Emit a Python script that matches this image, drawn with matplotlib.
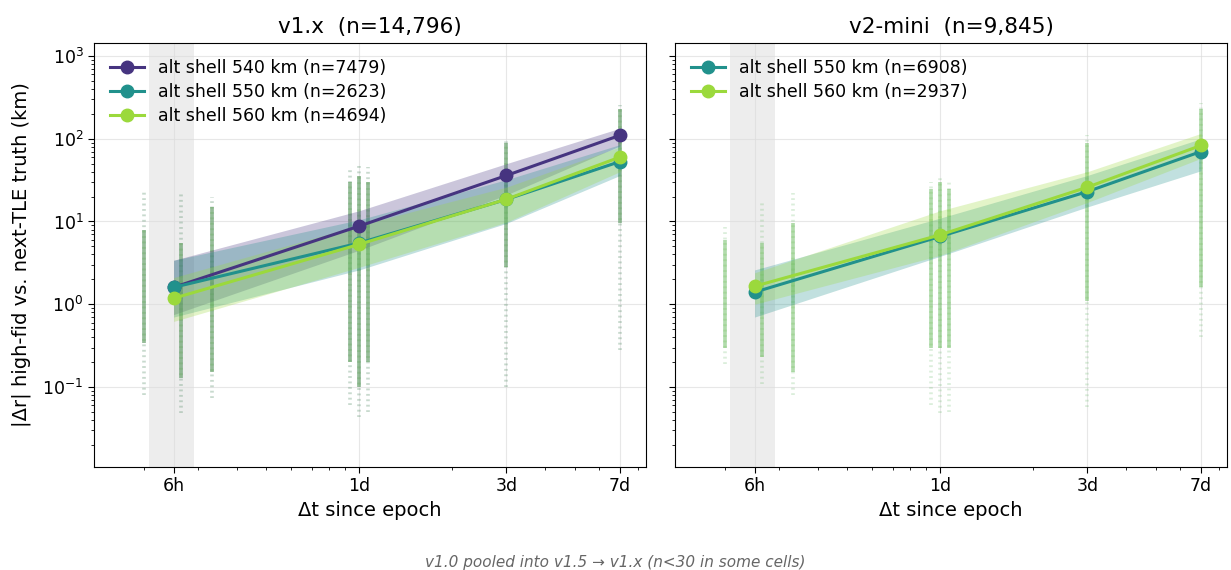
import numpy as np
import matplotlib.pyplot as plt
from matplotlib.ticker import FixedLocator, FixedFormatter, NullFormatter

# horizons (days) and labels
horizons = [0.25, 1.0, 3.0, 7.0]
horizon_labels = ["6h", "1d", "3d", "7d"]

# --- v1.x panel: median |dr| and IQR band per shell ---
v1_shells = ["alt shell 540 km (n=7479)", "alt shell 550 km (n=2623)", "alt shell 560 km (n=4694)"]
v1_med = [[1.6, 8.8, 36, 110], [1.6, 5.5, 18.5, 53], [1.18, 5.3, 18.6, 60]]
v1_lo = [[0.75, 4.5, 21, 82], [0.7, 2.6, 9.5, 36], [0.62, 2.8, 9.8, 40]]
v1_hi = [[3.4, 13.5, 50, 134], [3.4, 10.5, 32, 85], [2.1, 9.0, 26, 80]]

# --- v2-mini panel ---
v2_shells = ["alt shell 550 km (n=6908)", "alt shell 560 km (n=2937)"]
v2_med = [[1.4, 6.6, 23, 70], [1.65, 6.9, 26, 83]]
v2_lo = [[0.7, 3.8, 15, 41], [1.0, 3.9, 17, 58]]
v2_hi = [[2.6, 11, 36, 100], [2.4, 13.5, 40, 116]]

# per-TLE scatter clouds: x position, full extent, dense core
cloud_x = [0.2, 0.265, 0.333, 0.93, 1.0, 1.065, 3.0, 7.0]
v1_cloud_lo = [0.079, 0.048, 0.073, 0.06, 0.043, 0.05, 0.1, 0.28]
v1_cloud_hi = [24, 22, 19.6, 45, 50, 45, 100, 254]
v1_core_lo = [0.34, 0.13, 0.15, 0.2, 0.1, 0.2, 2.8, 9.5]
v1_core_hi = [7.8, 5.5, 15, 30, 35, 30, 88, 230]
v2_cloud_lo = [0.19, 0.11, 0.08, 0.06, 0.048, 0.05, 0.057, 0.4]
v2_cloud_hi = [8.5, 17, 22, 30, 35, 30, 110, 270]
v2_core_lo = [0.3, 0.23, 0.15, 0.3, 0.3, 0.3, 1.1, 1.6]
v2_core_hi = [6, 5.5, 9.5, 25, 30, 25, 90, 230]

cmap = plt.cm.viridis
v1_colors = [cmap(0.15), cmap(0.5), cmap(0.85)]
v2_colors = [cmap(0.5), cmap(0.85)]

fig = plt.figure(figsize=(12.31, 5.70), dpi=100)
ax1 = fig.add_axes([94 / 1231, 1 - 467 / 570, 552 / 1231, 424 / 570])
ax2 = fig.add_axes([675 / 1231, 1 - 467 / 570, 552 / 1231, 424 / 570], sharey=ax1)


def draw_panel(ax, title, shells, med, lo, hi, colors, c_lo, c_hi, k_lo, k_hi):
    ax.set_xscale("log")
    ax.set_yscale("log")
    ax.axvspan(5 / 24, 7 / 24, color="#e6e6e6", alpha=0.7, zorder=0, lw=0)
    # scatter clouds (drawn as dotted strips)
    for c in colors:
        ax.vlines(cloud_x, c_lo, c_hi, color=c, alpha=0.12, lw=2.6,
                  linestyles=(0, (0.5, 1.0)), zorder=1)
        ax.vlines(cloud_x, k_lo, k_hi, color=c, alpha=0.30, lw=2.6, zorder=1)
    for name, m, l, h, c in zip(shells, med, lo, hi, colors):
        ax.fill_between(horizons, l, h, color=c, alpha=0.28, lw=0, zorder=2)
        ax.plot(horizons, m, "-o", color=c, lw=2.2, ms=9, label=name, zorder=3)
    ax.set_xlim(0.138, 8.5)
    ax.xaxis.set_major_locator(FixedLocator(horizons))
    ax.xaxis.set_major_formatter(FixedFormatter(horizon_labels))
    ax.xaxis.set_minor_formatter(NullFormatter())
    ax.grid(True, which="major", color="#dddddd", lw=0.8, alpha=0.7)
    ax.set_axisbelow(True)
    ax.set_title(title, fontsize=15.5, pad=7)
    ax.set_xlabel("Δt since epoch", fontsize=14)
    ax.tick_params(labelsize=12.5)
    ax.tick_params(which="major", length=4)
    ax.legend(loc="upper left", frameon=False, fontsize=12.5,
              borderaxespad=0.5, handlelength=2.0, labelspacing=0.35)


draw_panel(ax1, "v1.x  (n=14,796)", v1_shells, v1_med, v1_lo, v1_hi, v1_colors,
           v1_cloud_lo, v1_cloud_hi, v1_core_lo, v1_core_hi)
draw_panel(ax2, "v2-mini  (n=9,845)", v2_shells, v2_med, v2_lo, v2_hi, v2_colors,
           v2_cloud_lo, v2_cloud_hi, v2_core_lo, v2_core_hi)

ax1.set_ylim(0.0108, 1435)
ax1.set_ylabel("|Δr| high-fid vs. next-TLE truth (km)", fontsize=14, labelpad=8)
plt.setp(ax2.get_yticklabels(), visible=False)

fig.text(0.5, 0.014, "v1.0 pooled into v1.5 → v1.x (n<30 in some cells)",
         ha="center", va="center", fontsize=11, style="italic", color="#666666")

fig.savefig("out.png", dpi=100)
